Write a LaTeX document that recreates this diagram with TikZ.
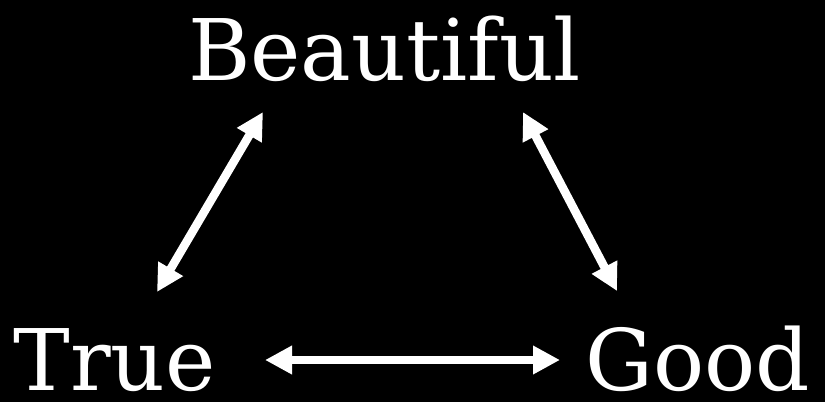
\documentclass[tikz,border=0pt]{standalone}
\usepackage{fontspec}
\usetikzlibrary{arrows.meta}
\newfontfamily\slidefont{DejaVu Serif}
\definecolor{slideink}{HTML}{FFFFFF}
\definecolor{slideback}{HTML}{000000}
\tikzset{
  wordlabel/.style={font=\slidefont\fontsize{85}{90}\selectfont, text=slideink,
    anchor=base, inner sep=0pt},
  twoflow/.style={{Triangle[length=27pt,width=27pt]}-{Triangle[length=27pt,width=27pt]},
    draw=slideink, line width=8.5pt}
}
\begin{document}
\begin{tikzpicture}[x=1pt,y=-1pt]
  % black slide, three words joined pairwise
  \fill[slideback] (0,0) rectangle (825,402);
  \useasboundingbox (0,0) rectangle (825,402);

  \node[wordlabel] (beautiful) at (384.5,80) {Beautiful};
  \node[wordlabel] (true) at (114.5,390) {True};
  \node[wordlabel] (good) at (697.5,390) {Good};

  \draw[twoflow] ([shift={(-121.5,32)}]beautiful.base) -- ([shift={(42.5,-98)}]true.base);
  \draw[twoflow] ([shift={(138.5,32)}]beautiful.base) -- ([shift={(-80.5,-99)}]good.base);
  \draw[twoflow] ([shift={(150.5,-30)}]true.base) -- ([shift={(-137.5,-30)}]good.base);
\end{tikzpicture}
\end{document}
